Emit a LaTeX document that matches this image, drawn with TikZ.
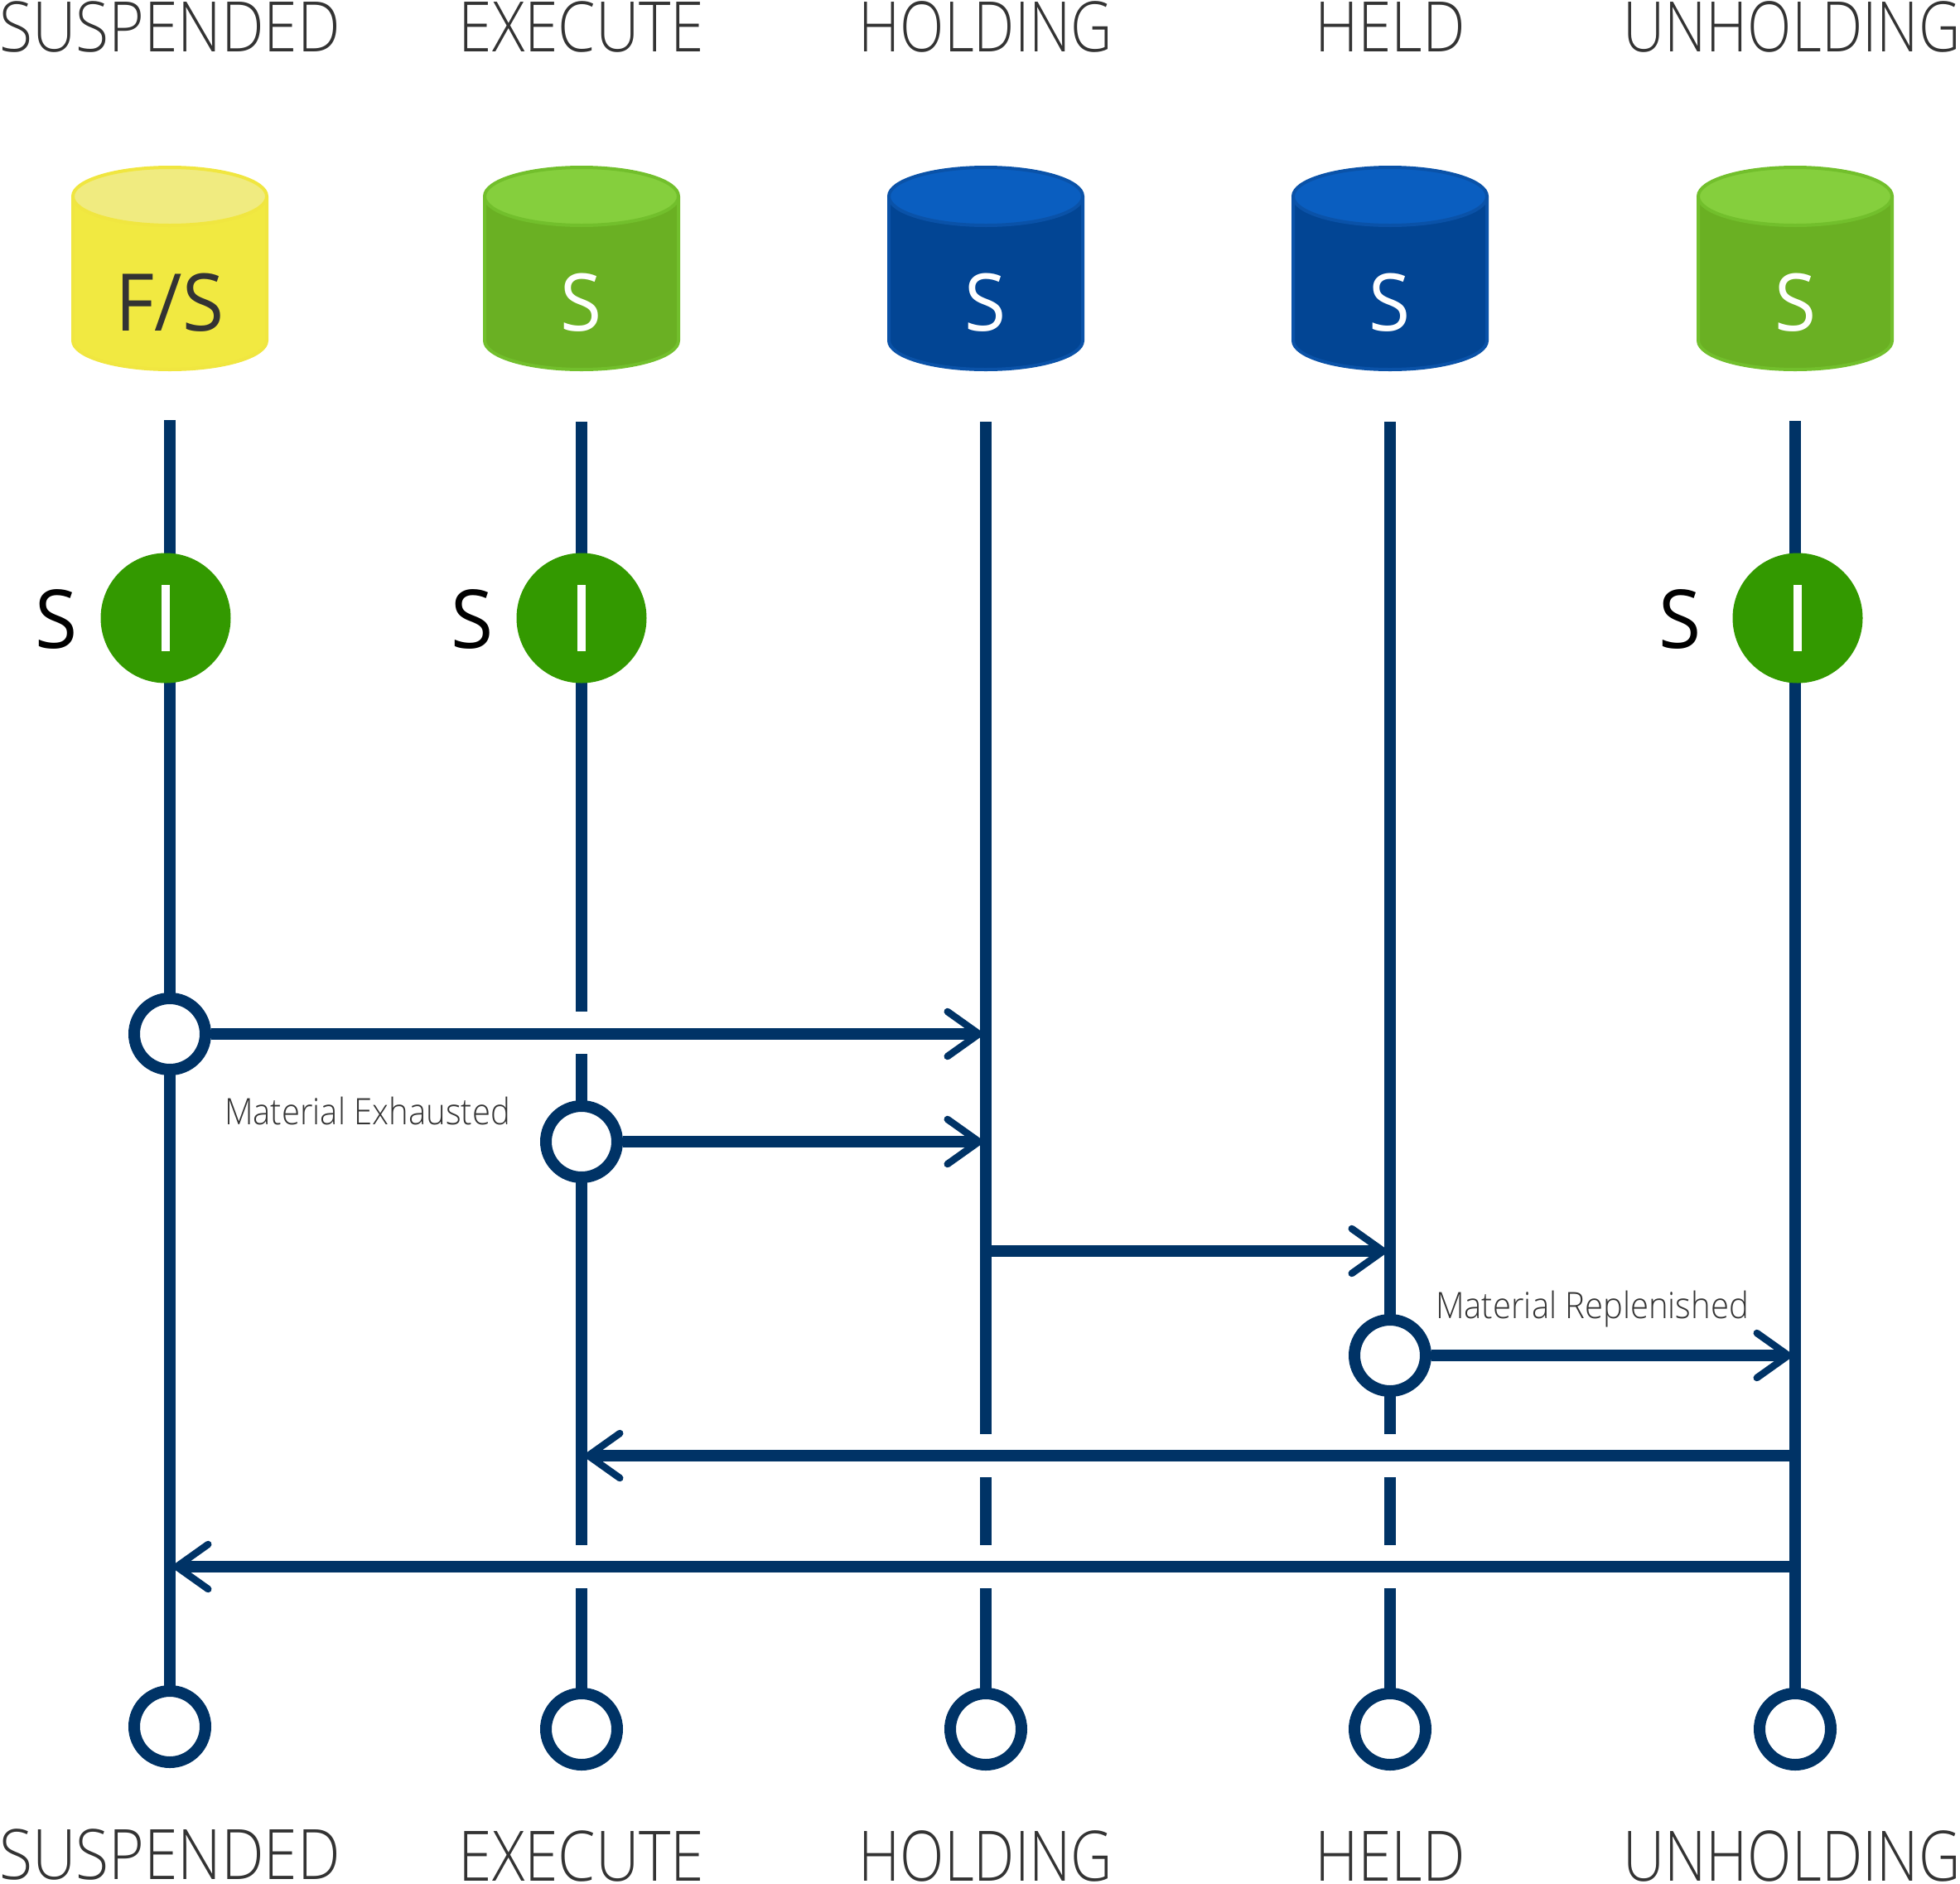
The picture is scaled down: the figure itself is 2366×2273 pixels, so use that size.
\documentclass[tikz,border=0pt]{standalone}
\usepackage{fontspec}
\usetikzlibrary{arrows.meta}
\setmainfont{Open Sans}[UprightFont=* Light,FakeStretch=0.87]
\newfontfamily\narrowfont{Open Sans}[UprightFont=* Light,FakeStretch=0.83]
\newfontfamily\smallfont{Open Sans}[UprightFont=* Light,FakeStretch=0.91]
\newfontfamily\regfont{Open Sans}[FakeStretch=0.95]
\definecolor{navy}{HTML}{003366}
\definecolor{ink}{HTML}{333333}
\definecolor{yelBody}{HTML}{F1E941}
\definecolor{yelTop}{HTML}{F0EB80}
\definecolor{yelLine}{HTML}{F0E640}
\definecolor{grnBody}{HTML}{6AB023}
\definecolor{grnTop}{HTML}{85CF3D}
\definecolor{grnLine}{HTML}{72BF2C}
\definecolor{bluBody}{HTML}{024594}
\definecolor{bluTop}{HTML}{0A5EC0}
\definecolor{bluLine}{HTML}{0A52A8}
\definecolor{runGreen}{HTML}{339900}
\tikzset{
  x=1pt,y=-1pt,
  lifeline/.style={draw=navy,line width=14pt},
  message/.style={draw=navy,line width=14pt,-{Straight Barb[length=38pt,width=54pt,line width=8.5pt,round]}},
  portcircle/.style={circle,draw=navy,line width=14pt,fill=white,minimum size=86pt,inner sep=0pt},
  runcircle/.style={circle,fill=runGreen,minimum size=157pt,inner sep=0pt},
  runbar/.style={fill=white,minimum width=10.5pt,minimum height=80pt,inner sep=0pt},
  statelabel/.style={anchor=base,text=ink,inner sep=0pt,font=\fontsize{84}{84}\selectfont},
  narrowlabel/.style={anchor=base,text=ink,inner sep=0pt,font=\narrowfont\fontsize{84}{84}\selectfont},
  msglabel/.style={anchor=base west,text=ink,inner sep=0pt,font=\smallfont\fontsize{44}{44}\selectfont},
  cyltext/.style={anchor=base,inner sep=0pt,font=\regfont\fontsize{96}{96}\selectfont},
  sidetext/.style={anchor=base,text=black,inner sep=0pt,font=\regfont\fontsize{98}{98}\selectfont},
}
% #1 centre x, #2 body, #3 top, #4 line
\newcommand{\drum}[4]{%
  \draw[fill=#2,draw=#4,line width=4pt] (#1-117,237) -- (#1-117,411)
     arc[x radius=117,y radius=35,start angle=180,end angle=0] -- (#1+117,237);
  \draw[fill=#3,draw=#4,line width=4pt] (#1,237) ellipse[x radius=117,y radius=35];
}
\begin{document}
\begin{tikzpicture}
\useasboundingbox (0,0) rectangle (2366,2273);
% state titles
\node[statelabel] (t1) at (205,62) {SUSPENDED};
\node[statelabel] (t2) at (702,62) {EXECUTE};
\node[narrowlabel] (t3) at (1190,62) {HOLDING};
\node[statelabel] (t4) at (1678,62) {HELD};
\node[narrowlabel] (t5) at (2163,62) {UNHOLDING};
\node[statelabel] (b1) at (205,2268) {SUSPENDED};
\node[statelabel] (b2) at (702,2270) {EXECUTE};
\node[narrowlabel] (b3) at (1190,2270) {HOLDING};
\node[statelabel] (b4) at (1678,2270) {HELD};
\node[narrowlabel] (b5) at (2163,2270) {UNHOLDING};
% drums
\drum{205}{yelBody}{yelTop}{yelLine}
\drum{702}{grnBody}{grnTop}{grnLine}
\drum{1190}{bluBody}{bluTop}{bluLine}
\drum{1678}{bluBody}{bluTop}{bluLine}
\drum{2167}{grnBody}{grnTop}{grnLine}
\node[cyltext,text=ink] (d1) at (205,399) {F/S};
\node[cyltext,text=white] (d2) at (702,399) {S};
\node[cyltext,text=white] (d3) at (1190,399) {S};
\node[cyltext,text=white] (d4) at (1678,399) {S};
\node[cyltext,text=white] (d5) at (2167,399) {S};
% lifeline tops and ends
\coordinate (s1) at (205,507);
\coordinate (s2) at (702,509);
\coordinate (s3) at (1190,509);
\coordinate (s4) at (1678,509);
\coordinate (s5) at (2167,508);
\coordinate (g2a) at (702,1221);
\coordinate (g2b) at (702,1272);
\coordinate (g2c) at (702,1865);
\coordinate (g2d) at (702,1917);
\coordinate (g3a) at (1190,1731);
\coordinate (g3b) at (1190,1783);
\coordinate (g3c) at (1190,1865);
\coordinate (g3d) at (1190,1917);
\coordinate (g4a) at (1678,1731);
\coordinate (g4b) at (1678,1783);
\coordinate (g4c) at (1678,1865);
\coordinate (g4d) at (1678,1917);
\node[portcircle,draw=none,fill=none] (e1) at (205,2084) {};
\node[portcircle,draw=none,fill=none] (e2) at (702,2087) {};
\node[portcircle,draw=none,fill=none] (e3) at (1190,2087) {};
\node[portcircle,draw=none,fill=none] (e4) at (1678,2087) {};
\node[portcircle,draw=none,fill=none] (e5) at (2167,2087) {};
\draw[lifeline] (s1) -- (e1.center);
\draw[lifeline] (s2) -- (g2a) (g2b) -- (g2c) (g2d) -- (e2.center);
\draw[lifeline] (s3) -- (g3a) (g3b) -- (g3c) (g3d) -- (e3.center);
\draw[lifeline] (s4) -- (g4a) (g4b) -- (g4c) (g4d) -- (e4.center);
\draw[lifeline] (s5) -- (e5.center);
\node[portcircle] at (e1) {};
\node[portcircle] at (e2) {};
\node[portcircle] at (e3) {};
\node[portcircle] at (e4) {};
\node[portcircle] at (e5) {};
% running indicators
\node[runcircle] (r1) at (200,746) {};
\node[runcircle] (r2) at (702,746) {};
\node[runcircle] (r5) at (2170,746) {};
\node[runbar] at (r1) {};
\node[runbar] at (r2) {};
\node[runbar] at (r5) {};
\node[sidetext] (k1) at (68,782) {S};
\node[sidetext] (k2) at (570,782) {S};
\node[sidetext] (k5) at (2028,782) {S};
% message anchors
\node[portcircle] (p1) at (205,1248) {};
\node[portcircle] (p2) at (702,1378) {};
\node[portcircle] (p4) at (1678,1636) {};
\coordinate (h1) at (1186,1248);
\coordinate (h2) at (1186,1378);
\coordinate (h3s) at (1190,1510);
\coordinate (h4) at (1674,1510);
\coordinate (h5) at (2163,1636);
\coordinate (u1s) at (2167,1757);
\coordinate (x1) at (706,1757);
\coordinate (u2s) at (2167,1891);
\coordinate (x2) at (209,1891);
\draw[message] (p1) -- (h1);
\draw[message] (p2) -- (h2);
\draw[message] (h3s) -- (h4);
\draw[message] (p4) -- (h5);
\draw[message] (u1s) -- (x1);
\draw[message] (u2s) -- (x2);
\node[msglabel] (m1) at (271,1357) {Material Exhausted};
\node[msglabel] (m2) at (1733,1591) {Material Replenished};
\end{tikzpicture}
\end{document}
